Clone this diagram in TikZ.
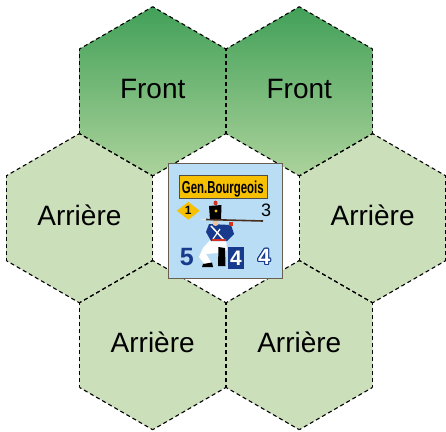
\documentclass[tikz,border=0pt]{standalone}
\usepackage{fontspec}
\setmainfont{Liberation Sans}
\usepackage{graphicx}
\usepackage[copies]{contour}
\usepackage{tikz}
\usetikzlibrary{shapes.geometric, calc}

\definecolor{FrontTop}{RGB}{66,160,88}
\definecolor{FrontBottom}{RGB}{172,211,156}
\definecolor{RearGreen}{RGB}{203,223,186}
\definecolor{CounterBlue}{RGB}{184,221,245}
\definecolor{CounterRim}{RGB}{105,95,80}
\definecolor{NameYellow}{RGB}{247,192,0}
\definecolor{UnitNavy}{RGB}{24,58,140}
\definecolor{StockBrown}{RGB}{70,45,30}
\definecolor{SkinTone}{RGB}{236,196,160}
\definecolor{PlumeRed}{RGB}{210,50,30}

\tikzset{
	hexcell/.style={regular polygon, regular polygon sides=6, shape border rotate=30,
		minimum size=169.2pt, inner sep=0pt, outer sep=0pt,
		text height=15pt, text depth=0pt, font=\fontsize{28}{30}\selectfont},
	front/.style={top color=FrontTop, bottom color=FrontBottom},
	rear/.style={fill=RearGreen},
	hexedge/.style={line width=1.1pt, dash pattern=on 4pt off 3pt, dash phase=1.7pt},
	counterbox/.style={draw=CounterRim, line width=0.9pt, fill=CounterBlue,
		minimum width=114pt, minimum height=115pt, inner sep=0pt},
	factor/.style={inner sep=0pt, font=\bfseries\fontsize{#1}{#1}\selectfont},
}
\contourlength{1pt}

\begin{document}
\begin{tikzpicture}[x=1pt, y=-1pt]
	\useasboundingbox (0,0) rectangle (446,431);
	\foreach \n/\x/\y/\kind/\lab in {
		f1/152.7/91.3/front/Front,
		f2/299.3/91.3/front/Front,
		a1/79.4/218.2/rear/Arri\`ere,
		a2/372.6/218.2/rear/Arri\`ere,
		a3/152.7/345.1/rear/Arri\`ere,
		a4/299.3/345.1/rear/Arri\`ere}{
		\node[hexcell, \kind] (\n) at (\x,\y) {\lab};
	}
	\node[hexcell] (mid) at (226,218.2) {};
	\foreach \h in {f1,f2,a1,a2,a3,a4}
		\foreach \i/\j in {1/2,2/3,3/4,4/5,5/6,6/1}
			\draw[hexedge] (\h.corner \i) -- (\h.corner \j);

	% the unit counter
	\node[counterbox] (unit) at (225,220.5) {};
	\node[fill=NameYellow, draw=black!70, line width=0.4pt, minimum width=88pt,
		minimum height=22.5pt, inner sep=0pt, text height=14pt, text depth=0pt]
		(name) at (222.8,186.7)
		{\scalebox{0.66}[1]{\fontsize{17.3}{18}\selectfont\bfseries Gen.Bourgeois}};
	\node[diamond, fill=NameYellow, minimum width=23pt, minimum height=18pt,
		factor=12] (lead) at (188.3,210.8) {1};
	\node[inner sep=0pt, font=\fontsize{18}{18}\selectfont] (fire) at (266,210) {3};
	\node[factor=25, text=UnitNavy] (attack) at (186.7,257.5) {5};
	\node[factor=21, fill=UnitNavy, text=white, minimum width=16.6pt,
		minimum height=22.6pt] (defence) at (236,258) {4};
	\node[factor=22] (move) at (264.2,257.5) {\contour{UnitNavy}{\textcolor{white}{4}}};

	% kneeling fusilier
	\fill[white] (211,239) -- (226,239) -- (227,250) -- (218,253) -- (206,254)
		-- (211,262) -- (206,266) -- (199,257) -- (203,248) -- cycle;
	\fill[black] (218.5,247) -- (225,248) -- (225.5,266) -- (218,266) -- cycle;
	\fill[black] (203,264) -- (212,262.5) -- (213,267) -- (202,267) -- cycle;
	\fill[UnitNavy] (209,224) -- (231,225) -- (234,234) -- (227,241)
		-- (211,241) -- (206,232) -- cycle;
	\draw[white, line width=1.5pt] (211,226) -- (224,240);
	\draw[white, line width=1.2pt] (213,239) -- (220,229);
	\fill[PlumeRed] (212,239) rectangle (226,241);
	\fill[PlumeRed] (229,222) rectangle (233,226);
	\fill[SkinTone] (215.5,223) circle (3pt);
	\fill[black] (209,206) -- (221.5,205) -- (221,220) -- (210,220) -- cycle;
	\fill[PlumeRed] (215.5,203) ellipse (2pt and 2.5pt);
	\fill[NameYellow] (216,211) circle (1.6pt);
	\draw[StockBrown, line width=1.6pt] (206,219.5) -- (263,221);
	\draw[white!80!gray, line width=1pt] (201,219.3) -- (206,219.5);
\end{tikzpicture}
\end{document}
